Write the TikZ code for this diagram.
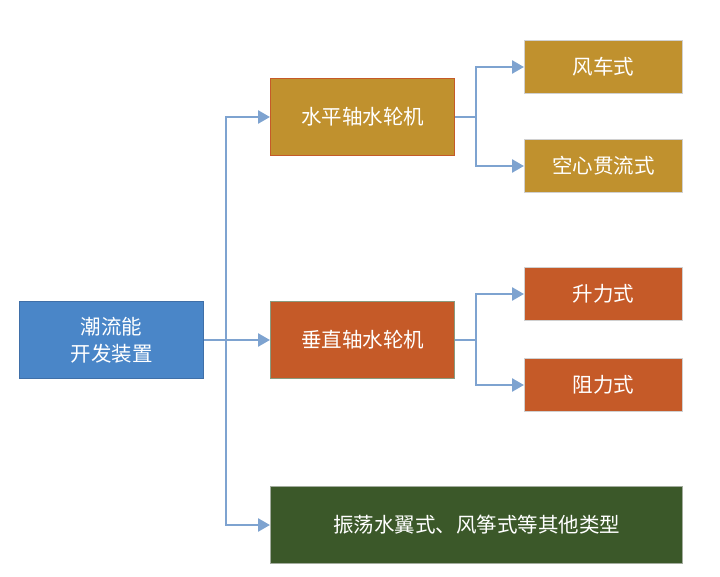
\documentclass[tikz,border=0pt]{standalone}
\usepackage{fontspec}
\setmainfont{Noto Sans CJK SC}
\usetikzlibrary{arrows.meta}
\definecolor{cblue}{HTML}{4A86C8}
\definecolor{cblueb}{HTML}{3F6FA8}
\definecolor{cgold}{HTML}{C0912E}
\definecolor{corange}{HTML}{C55A28}
\definecolor{cgreen}{HTML}{3B5829}
\definecolor{cline}{HTML}{7EA3D0}
\definecolor{cgray}{HTML}{D0D0D0}
\begin{document}
\begin{tikzpicture}[x=1pt,y=-1pt,
  box/.style={draw=cgray,line width=1pt,text=white,font=\fontsize{20.5}{27}\selectfont,align=center,inner sep=0pt,anchor=north west},
  conn/.style={draw=cline,line width=2.6pt},
  arr/.style={conn,-{Triangle[length=12pt,width=13pt]}}]
\useasboundingbox (0,0) rectangle (720,577);
\node[box,fill=cblue,draw=cblueb,minimum width=184pt,minimum height=77pt] (root) at (19,301) {潮流能\\开发装置};
\node[box,fill=cgold,draw=corange,minimum width=184pt,minimum height=77pt] (h) at (270,78) {水平轴水轮机};
\node[box,fill=corange,draw=cgreen!60!white,minimum width=184pt,minimum height=77pt] (v) at (270,301) {垂直轴水轮机};
\node[box,fill=cgreen,draw=cgray!70!cgreen,minimum width=412pt,minimum height=77pt] (o) at (270,486) {振荡水翼式、风筝式等其他类型};
\node[box,fill=cgold,minimum width=158pt,minimum height=53pt] (h1) at (524,40) {风车式};
\node[box,fill=cgold,minimum width=158pt,minimum height=53pt] (h2) at (524,139) {空心贯流式};
\node[box,fill=corange,minimum width=158pt,minimum height=53pt] (v1) at (524,267) {升力式};
\node[box,fill=corange,minimum width=158pt,minimum height=53pt] (v2) at (524,358) {阻力式};
\coordinate (t) at (226,0);
\coordinate (b1) at (476,0);
\draw[conn] (root.east) -- (root.east -| t);
\draw[arr] (root.east -| t) |- (h.west);
\draw[arr] (root.east -| t) -- (v.west);
\draw[arr] (root.east -| t) |- (o.west);
\draw[conn] (h.east) -- (h.east -| b1);
\draw[arr] (h.east -| b1) |- (h1.west);
\draw[arr] (h.east -| b1) |- (h2.west);
\draw[conn] (v.east) -- (v.east -| b1);
\draw[arr] (v.east -| b1) |- (v1.west);
\draw[arr] (v.east -| b1) |- (v2.west);
\end{tikzpicture}
\end{document}
